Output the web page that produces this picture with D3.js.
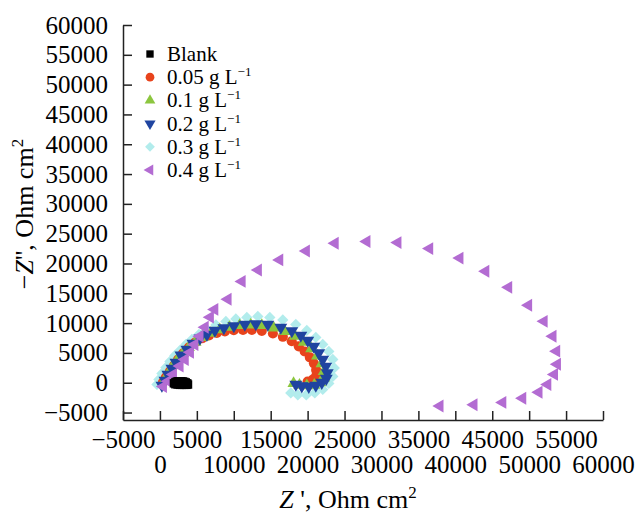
<!DOCTYPE html>
<meta charset="utf-8">
<style>
  body { margin: 0; background: #fff; }
  svg text { font-family: "Liberation Serif", "Times New Roman", serif; fill: #000; }
</style>
<svg width="638" height="515" font-family="Liberation Serif"></svg>
<script src="https://d3js.org/d3.v7.min.js"></script>
<script>

// ---- data (Z', -Z'' in Ohm cm2) ----
var blank = [[1900, -100], [2100, 100], [2300, 200], [2500, 250], [2700, 250], [2900, 250], [3100, 200],
  [3300, 150], [3500, 50], [3700, -100], [3800, -300], [3600, -350], [3300, -350], [3000, -350],
  [2700, -350], [2400, -300], [2100, -250]];

var c005 = [[400, 50], [800, 900], [1350, 1900], [1900, 2900], [2450, 3900], [3100, 4900], [3900, 5900],
  [4750, 6750], [5700, 7450], [6650, 7950], [7700, 8350], [8800, 8600], [10000, 8800], [11250, 8850],
  [12450, 8850], [13800, 8700], [15300, 8250], [16650, 7700], [17850, 6950], [18800, 6100], [19600, 5250],
  [20300, 4250], [20850, 3250], [21150, 2150], [21150, 1150], [20700, 550], [20000, 200]];

var c01 = [[500, 200], [900, 900], [1300, 1900], [1800, 2900], [2400, 3900], [3100, 4900], [3900, 5900],
  [4800, 6800], [5800, 7600], [6900, 8300], [8100, 8900], [9400, 9300], [10800, 9600], [12300, 9700],
  [13800, 9600], [15400, 9200], [16900, 8600], [18300, 7800], [19500, 6800], [20500, 5700], [21300, 4500],
  [21900, 3200], [22200, 1900], [22200, 800], [21700, 0], [20900, -400], [19900, -500], [18900, -400],
  [18100, -100]];

var c02 = [[270, -450], [680, 400], [1080, 1400], [1620, 2400], [2170, 3400], [2840, 4600], [3650, 5600],
  [4470, 6600], [5410, 7450], [6360, 8100], [7440, 8780], [8660, 9200], [10010, 9530], [11500, 9780],
  [12990, 9870], [14610, 9780], [16370, 9280], [17860, 8690], [19080, 7940], [20020, 7100], [20840, 6090],
  [21510, 5000], [22050, 3910], [22460, 2740], [22660, 1640], [22530, 720], [21920, 50], [21110, -450],
  [20160, -620], [19210, -540], [18400, -280]];

var c03 = [[-400, -280], [-140, 550], [270, 1560], [810, 2570], [1350, 3570], [2030, 4580], [2710, 5420],
  [3520, 6430], [4330, 7270], [5280, 8100], [6360, 8940], [7580, 9700], [8930, 10290], [10280, 10710],
  [11770, 10960], [13260, 11120], [14880, 10960], [16640, 10540], [18400, 9780], [19890, 8780],
  [21110, 7600], [22050, 6430], [22870, 5250], [23410, 3910], [23610, 2480], [23410, 1060], [22870, -120],
  [22050, -1120], [20970, -1710], [19820, -2050], [18670, -2050], [17720, -1710]];

var c04 = [[450, -650], [1100, 250], [1800, 1400], [2700, 2800], [3400, 3900], [4100, 5100], [4700, 6400],
  [5400, 7800], [6100, 9300], [6800, 11000], [7400, 12300], [9200, 14000], [11100, 17000], [13300, 18900],
  [16200, 20600], [19800, 22100], [23700, 23400], [28000, 23700], [32200, 23500], [36500, 22500],
  [40600, 20900], [44100, 18700], [47200, 16000], [49900, 13000], [52000, 10300], [53200, 7800],
  [53700, 5300], [53800, 3100], [53400, 1400], [52500, -300], [51300, -1600], [49100, -2600],
  [46400, -3300], [42500, -3700], [37900, -3900]];

var seriesNames = ["Blank", "0.05 g L", "0.1 g L", "0.2 g L", "0.3 g L", "0.4 g L"];
var seriesUnitPow = ["", "\u22121", "\u22121", "\u22121", "\u22121", "\u22121"];
var xTicks = [-5000, 0, 5000, 10000, 15000, 20000, 25000, 30000, 35000, 40000, 45000, 50000, 55000, 60000];
var yTicks = [-5000, 0, 5000, 10000, 15000, 20000, 25000, 30000, 35000, 40000, 45000, 50000, 55000, 60000];

// ---- styling ----
var seriesData = [blank, c005, c01, c02, c03, c04];
var colors = ["#000000", "#e8431c", "#8cc63f", "#1f44a0", "#b2ecec", "#b36cd2"];
var shapes = [d3.symbolSquare, d3.symbolCircle, d3.symbolTriangle, d3.symbolTriangle, d3.symbolSquare, d3.symbolTriangle];
var rotations = [0, 0, 0, 180, 45, -90];
var sizes = [72, 80, 66, 72, 64, 72];
var drawOrder = [4, 1, 2, 3, 5, 0];

var svg = d3.select("svg");

var x = d3.scaleLinear().domain([-5000, 60000]).range([123, 603]);
var y = d3.scaleLinear().domain([-6250, 60000]).range([420, 25]);

// axes
var gy = svg.append("g")
    .attr("transform", "translate(123,0)")
    .call(d3.axisLeft(y).tickValues(yTicks).tickFormat(d3.format("d"))
      .tickSizeInner(-9).tickSizeOuter(0).tickPadding(15));

var gx = svg.append("g")
    .attr("transform", "translate(0,420)")
    .call(d3.axisBottom(x).tickValues(xTicks).tickFormat(d3.format("d"))
      .tickSizeInner(-9).tickSizeOuter(0));

[gx, gy].forEach(function(g) {
  g.attr("font-family", null).attr("font-size", null);
  g.selectAll("text").style("font-size", "25px").attr("fill", "#000");
  g.selectAll("line, path").attr("stroke", "#222").attr("stroke-width", 1.5);
});

gx.selectAll(".tick text")
    .attr("dy", "0")
    .attr("y", function(d, i) { return i % 2 === 0 ? 28 : 53; });

// points
drawOrder.forEach(function(k) {
  svg.append("g")
    .selectAll("path")
    .data(seriesData[k])
    .join("path")
      .attr("d", d3.symbol().type(shapes[k]).size(sizes[k]))
      .attr("fill", colors[k])
      .attr("transform", function(d) {
        return "translate(" + x(d[0]) + "," + y(d[1]) + ") rotate(" + rotations[k] + ")";
      });
});

// legend
var legend = svg.append("g");
seriesNames.forEach(function(name, i) {
  var cy = 54 + i * 23.2;
  legend.append("path")
      .attr("d", d3.symbol().type(shapes[i]).size(sizes[i] * 0.75))
      .attr("fill", colors[i])
      .attr("transform", "translate(150," + cy + ") rotate(" + rotations[i] + ")");
  var t = legend.append("text")
      .attr("x", 167)
      .attr("y", cy + 7)
      .style("font-size", "21px")
      .text(name);
  if (seriesUnitPow[i]) {
    t.append("tspan")
        .attr("dy", -8)
        .style("font-size", "13px")
        .text(seriesUnitPow[i]);
  }
});

// axis titles
var xt = svg.append("text")
    .attr("x", 348)
    .attr("y", 508)
    .attr("text-anchor", "middle")
    .style("font-size", "26px");
xt.append("tspan").style("font-style", "italic").text("Z");
xt.append("tspan").text(" ', Ohm cm");
xt.append("tspan").attr("dy", -10).style("font-size", "17px").text("2");

var yt = svg.append("text")
    .attr("transform", "translate(33,214) rotate(-90)")
    .attr("text-anchor", "middle")
    .style("font-size", "26px");
yt.append("tspan").text("\u2212");
yt.append("tspan").style("font-style", "italic").text("Z");
yt.append("tspan").text("'', Ohm cm");
yt.append("tspan").attr("dy", -10).style("font-size", "17px").text("2");

</script>
